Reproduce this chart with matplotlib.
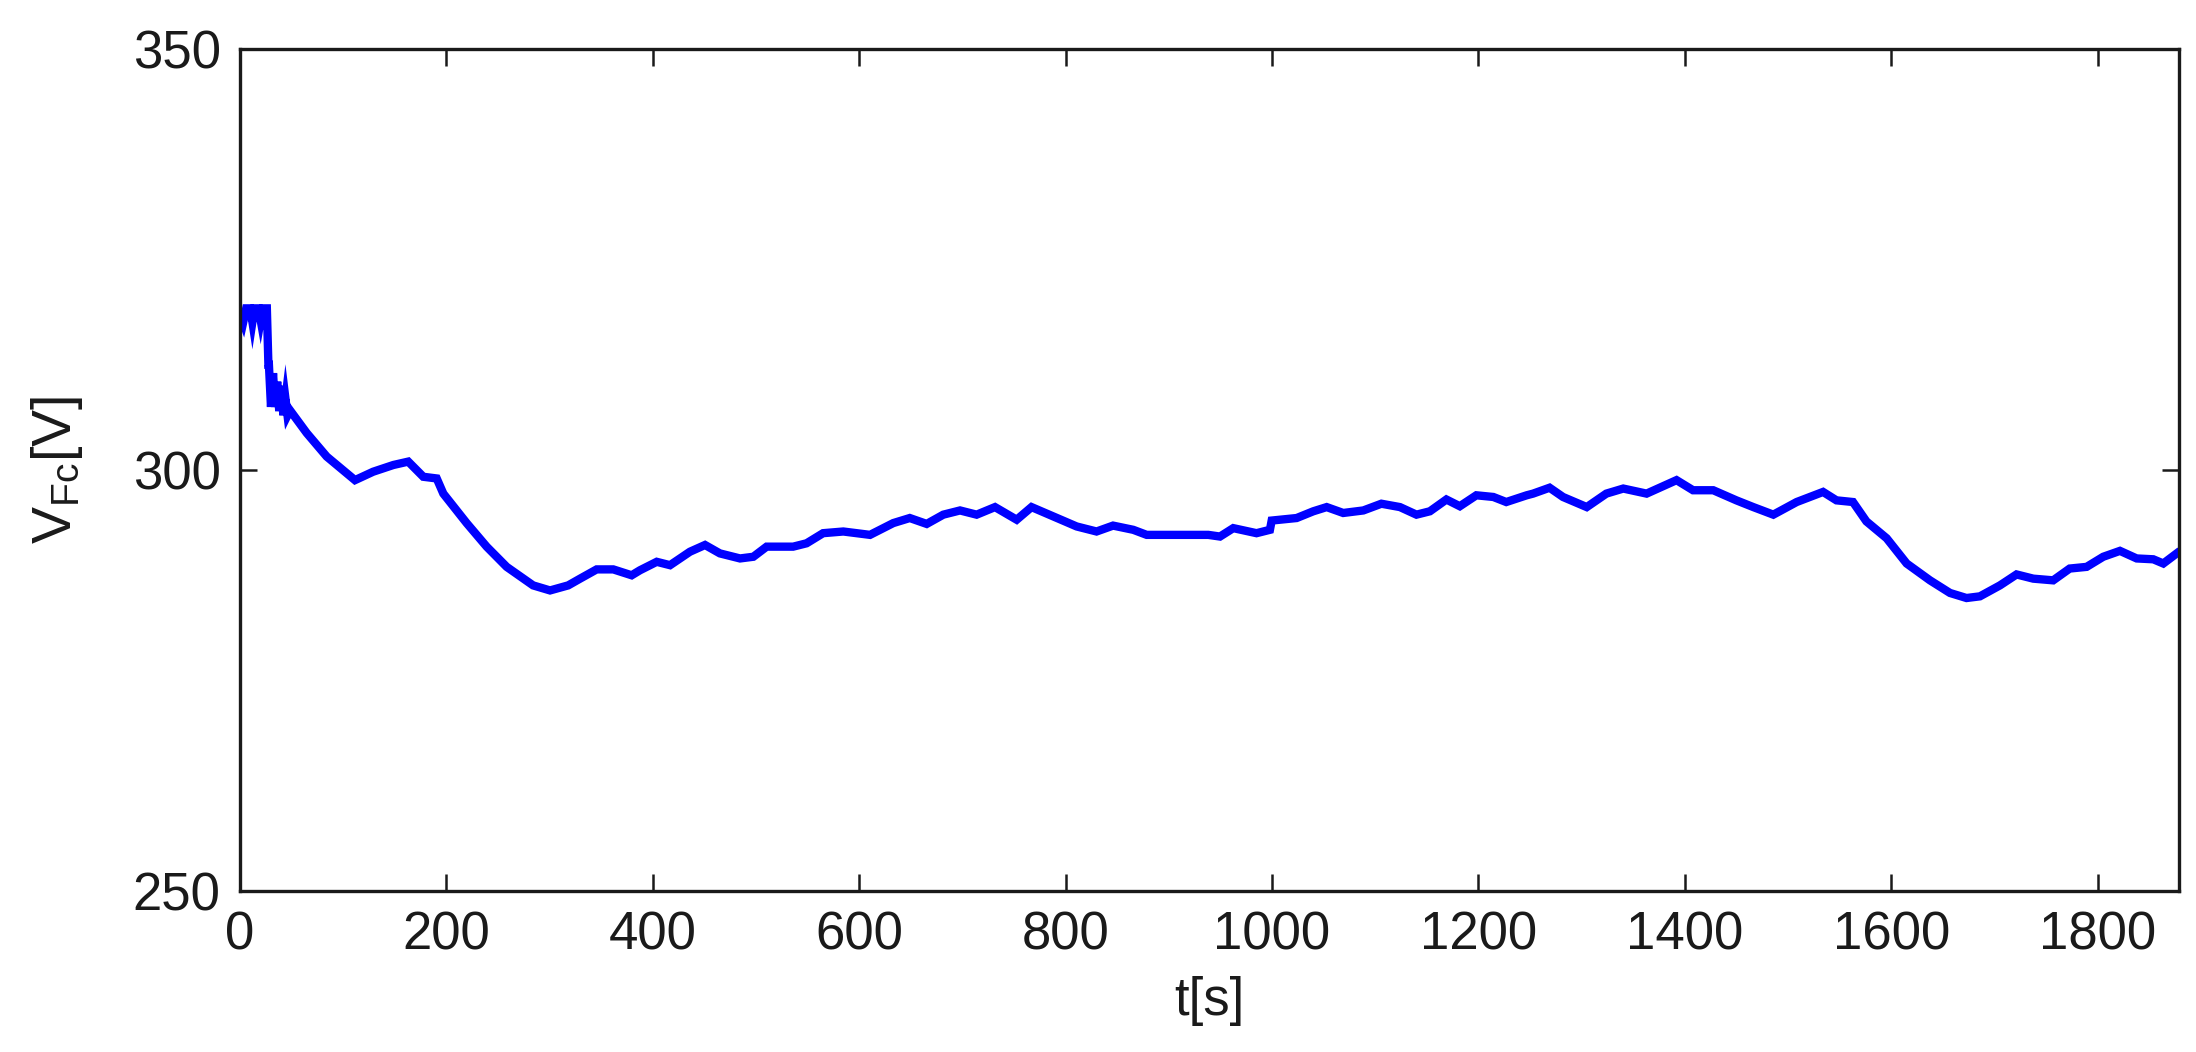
import matplotlib
matplotlib.use("Agg")
import matplotlib.pyplot as plt

plt.rcParams['font.family'] = ['Liberation Sans', 'DejaVu Sans']

# Time [s]
t = [0, 3, 6, 10, 12, 14, 18, 20, 22, 26, 27.5, 28, 30, 32, 34, 36, 38, 40, 42, 44, 46, 48.4,
     64.6, 84, 111.4, 129, 148.6, 163, 177.6, 190.6, 197, 219.6, 239, 258.4, 284, 300.4, 318,
     329.5, 345.6, 361.7, 379.5, 387.6, 403.8, 416.7, 436, 450.6, 465, 484.5, 497.4, 510.3,
     536, 549, 565, 584.6, 610.5, 626.6, 633, 649, 665.4, 681.5, 697.7, 713.8, 731.6, 752.6,
     767, 788, 810.7, 830, 846, 865.6, 878.6, 910.9, 938.3, 949.6, 962.5, 985, 998, 999.7,
     1023.9, 1040, 1053, 1069, 1088.5, 1106, 1124, 1140, 1153, 1169, 1182, 1198, 1214.5, 1227,
     1246.8, 1253, 1269, 1282, 1305, 1324, 1340.4, 1363, 1392, 1408, 1427.6, 1450, 1466.4,
     1485.8, 1508.4, 1534, 1547, 1563, 1576, 1595.6, 1615, 1637.6, 1657, 1673, 1686, 1705.4,
     1721.5, 1737.7, 1757, 1773, 1789.4, 1805.5, 1821.7, 1837.9, 1854, 1863.7, 1876.7]
# Fuel cell voltage V_Fc [V]
v = [318.5, 317.5, 319.2, 319.2, 317.6, 319.2, 319.2, 317.8, 319.2, 319.2, 312.5, 312.5, 307.5,
     311.5, 307.5, 310.5, 307.0, 310.0, 306.5, 308.5, 306.5, 307.1,
     304.4, 301.6, 298.8, 299.8, 300.6, 301.0, 299.2, 299.0, 297.2, 293.7, 290.9, 288.5, 286.3,
     285.7, 286.3, 287.1, 288.2, 288.2, 287.5, 288.1, 289.1, 288.7, 290.3, 291.1, 290.1, 289.5,
     289.7, 290.9, 290.9, 291.3, 292.5, 292.7, 292.3, 293.3, 293.7, 294.3, 293.6, 294.7, 295.2,
     294.7, 295.6, 294.1, 295.6, 294.5, 293.3, 292.7, 293.4, 292.9, 292.3, 292.3, 292.3, 292.1,
     293.1, 292.5, 292.9, 294.0, 294.3, 295.1, 295.6, 294.9, 295.2, 296.0, 295.6, 294.7, 295.1,
     296.5, 295.7, 297.0, 296.8, 296.2, 297.0, 297.2, 297.9, 296.8, 295.6, 297.2, 297.8, 297.2,
     298.8, 297.6, 297.6, 296.4, 295.6, 294.7, 296.2, 297.4, 296.4, 296.2, 293.9, 291.9, 288.9,
     286.9, 285.4, 284.8, 285.0, 286.3, 287.6, 287.1, 286.9, 288.3, 288.5, 289.7, 290.4, 289.5,
     289.4, 288.9, 290.1]

xticks = [0, 200, 400, 600, 800, 1000, 1200, 1400, 1600, 1800]
yticks = [250, 300, 350]

fig = plt.figure(figsize=(21.96, 10.52), dpi=100)
ax = fig.add_axes([0.1093, 0.1530, 0.9923 - 0.1093, 0.9534 - 0.1530])

ax.plot(t, v, color=(0, 0, 1), linewidth=6, solid_joinstyle='miter')

ax.set_xlim(0, 1879)
ax.set_ylim(250, 350)
ax.set_xticks(xticks)
ax.set_yticks(yticks)
ax.tick_params(direction='in', length=12, width=1.8, top=True, right=True,
               labelsize=38, pad=14, colors='#1a1a1a')
for s in ax.spines.values():
    s.set_linewidth(2.4)
    s.set_color('#1a1a1a')

ax.set_xlabel('t[s]', fontsize=38, labelpad=11, color='#1a1a1a')
ax.set_ylabel(r'$\mathregular{V_{Fc}[V]}$', fontsize=40, labelpad=34, color='#1a1a1a')

fig.savefig('out.png', dpi=100)
